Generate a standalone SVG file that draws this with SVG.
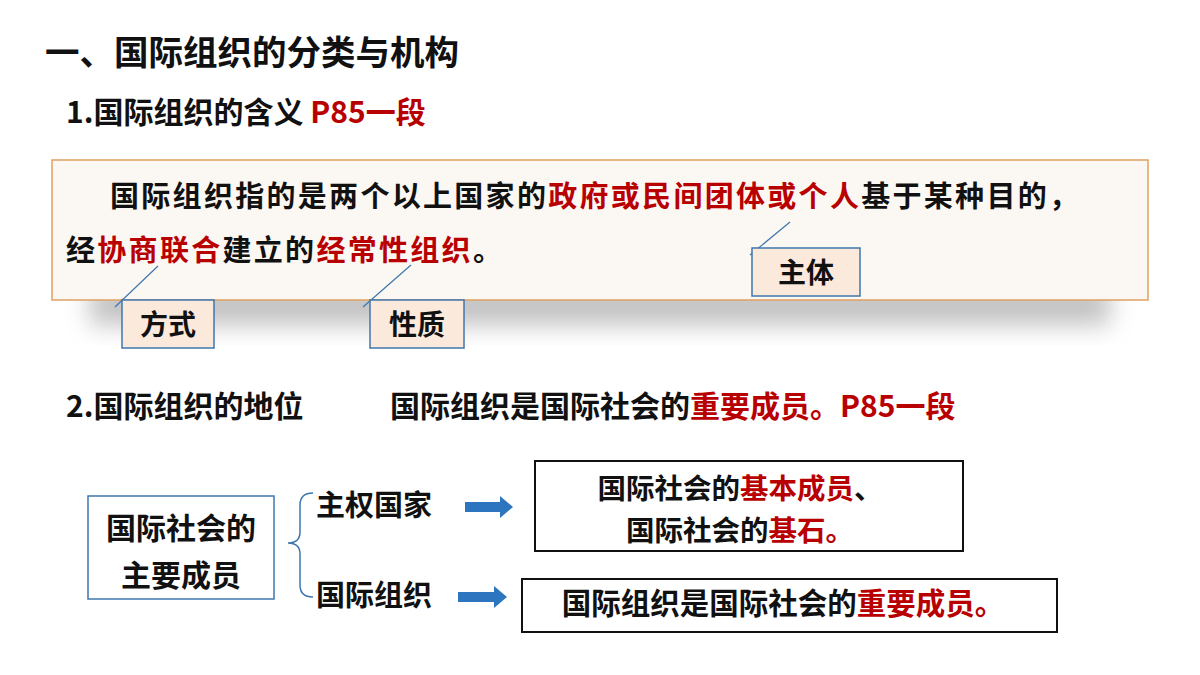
<svg xmlns="http://www.w3.org/2000/svg" width="1200" height="675" viewBox="0 0 1200 675">
<defs>
<style>
text{font-family:"Noto Sans CJK SC","Noto Sans",sans-serif;font-weight:bold;fill:#111}
.r{fill:#b80000}
.call{fill:#fbe9dc;stroke:#3f77ad;stroke-width:1.5}
.lead{stroke:#3f77ad;stroke-width:1.2}
.arr{fill:#2e75c0}
</style>
<filter id="sh" x="-10%" y="-50%" width="120%" height="200%"><feGaussianBlur stdDeviation="12"/></filter>
</defs>
<rect width="1200" height="675" fill="#fff"/>
<text x="45" y="65" font-size="34.5">一、国际组织的分类与机构</text>
<text x="66" y="123" font-size="30">1.国际组织的含义 <tspan class="r">P85一段</tspan></text>
<g id="panel">
<rect x="90" y="285" width="1020" height="40" fill="#999" opacity="0.6" filter="url(#sh)"/>
<rect x="52" y="160" width="1096" height="140" fill="#fbf7f2" stroke="#e0a060" stroke-width="1.5"/>
<text x="110" y="207" font-size="29" letter-spacing="2.3">国际组织指的是两个以上国家的<tspan class="r">政府或民间团体或个人</tspan>基于某种目的，</text>
<text x="66" y="261" font-size="29" letter-spacing="2.3">经<tspan class="r">协商联合</tspan>建立的<tspan class="r">经常性组织</tspan>。</text>
</g>
<g id="connectors">
<line class="lead" x1="750" y1="255" x2="790" y2="222"/>
<line class="lead" x1="115" y1="307" x2="158" y2="266"/>
<line class="lead" x1="363" y1="307" x2="411" y2="265"/>
<path d="M313,493 Q300,493 300,505 L300,532 Q300,543 288,543 Q300,543 300,554 L300,585 Q300,597 313,597" fill="none" stroke="#3f77ad" stroke-width="1.5"/>
<polygon class="arr" points="465,502 500,502 500,496 513,507 500,518 500,512 465,512"/>
<polygon class="arr" points="458,592 494,592 494,586 507,597 494,608 494,602 458,602"/>
</g>
<g id="n-zhuti"><rect class="call" x="752" y="248" width="108" height="48"/><text x="806" y="283" font-size="28" text-anchor="middle">主体</text></g>
<g id="n-fangshi"><rect class="call" x="122" y="300" width="92" height="48"/><text x="168" y="335" font-size="28" text-anchor="middle">方式</text></g>
<g id="n-xingzhi"><rect class="call" x="370" y="300" width="94" height="48"/><text x="417" y="335" font-size="28" text-anchor="middle">性质</text></g>
<text x="66" y="417" font-size="30">2.国际组织的地位</text>
<text x="390" y="417" font-size="30">国际组织是国际社会的<tspan class="r">重要成员。P85一段</tspan></text>
<g id="n-main"><rect x="88" y="496" width="186" height="103" fill="#fff" stroke="#3f77ad" stroke-width="1.5"/>
<text x="181" y="539" font-size="30" text-anchor="middle">国际社会的</text><text x="181" y="586" font-size="30" text-anchor="middle">主要成员</text></g>
<g id="n-state"><text x="316" y="516" font-size="29">主权国家</text></g>
<g id="n-org"><text x="316" y="606" font-size="29">国际组织</text></g>
<g id="n-box1"><rect x="535" y="461" width="428" height="90" fill="#fff" stroke="#111" stroke-width="2"/>
<text x="740" y="499" font-size="28.5" text-anchor="middle">国际社会的<tspan class="r">基本成员</tspan>、</text>
<text x="740" y="541" font-size="28.5" text-anchor="middle">国际社会的<tspan class="r">基石。</tspan></text></g>
<g id="n-box2"><rect x="522" y="579" width="535" height="53" fill="#fff" stroke="#111" stroke-width="2"/>
<text x="783" y="614" font-size="29.5" text-anchor="middle">国际组织是国际社会的<tspan class="r">重要成员。</tspan></text></g>
</svg>
